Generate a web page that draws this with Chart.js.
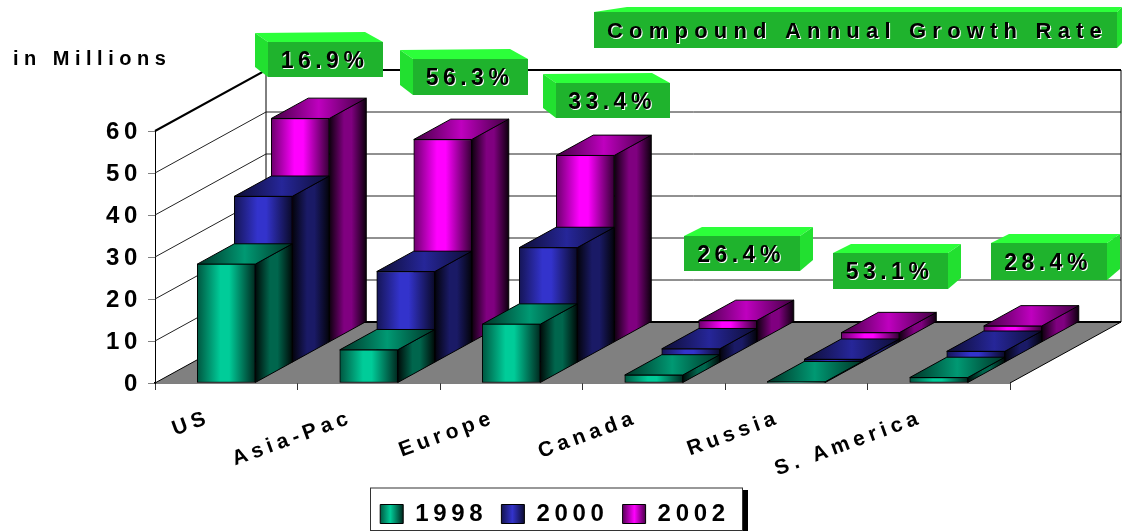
<!DOCTYPE html>
<html>
<head>
<meta charset="utf-8">
<style>
  html, body { margin: 0; padding: 0; background: #fff; }
  canvas { display: block; }
</style>
<script src="https://cdn.jsdelivr.net/npm/chart.js@4"></script>
</head>
<body>
<canvas id="grafica" width="1122" height="531"></canvas>
<script>
// data
const categories = ["US", "Asia-Pac", "Europe", "Canada", "Russia", "S. America"];
const years = ["1998", "2000", "2002"];
const values1998 = [28.3, 7.9, 14, 1.9, 0.3, 1.3];
const values2000 = [39.6, 21.7, 27.4, 3.3, 0.8, 2.7];
const values2002 = [53.3, 48.3, 44.5, 5.2, 2.3, 3.9];
const growthRates = ["16.9%", "56.3%", "33.4%", "26.4%", "53.1%", "28.4%"];
const yTicks = [0, 10, 20, 30, 40, 50, 60];

// layout of the 3d look
const FONT = '"Liberation Sans", Arial, sans-serif';
const STEP_X = 37, STEP_Y = 20.33, BAR_W = 58;
const seriesColors = [[0, 204, 153], [51, 51, 204], [255, 0, 255]];
// front box x,y,w,h of each growth callout, side = which way the 3d edge goes
const calloutBoxes = [
  { x: 268, y: 42, w: 115, h: 35, side: -1 },
  { x: 413, y: 59, w: 115, h: 36, side: -1 },
  { x: 556, y: 83, w: 114, h: 35, side: -1 },
  { x: 684, y: 236, w: 116, h: 35, side: 1 },
  { x: 833, y: 253, w: 115, h: 36, side: 1 },
  { x: 991, y: 243, w: 116, h: 37, side: 1 }
];

function shade(c, f) {
  return `rgb(${Math.round(c[0] * f)},${Math.round(c[1] * f)},${Math.round(c[2] * f)})`;
}

function gradFront(ctx, x0, x1, c) {
  const g = ctx.createLinearGradient(x0, 0, x1, 0);
  g.addColorStop(0, shade(c, 0.42));
  g.addColorStop(0.4, shade(c, 1));
  g.addColorStop(0.55, shade(c, 1));
  g.addColorStop(1, shade(c, 0.2));
  return g;
}

function poly(ctx, pts, fill, stroke) {
  ctx.beginPath();
  pts.forEach((p, i) => i ? ctx.lineTo(p[0], p[1]) : ctx.moveTo(p[0], p[1]));
  ctx.closePath();
  if (fill) { ctx.fillStyle = fill; ctx.fill(); }
  if (stroke) { ctx.strokeStyle = stroke; ctx.stroke(); }
}

function embossText(ctx, txt, x, y, size, spacing, align) {
  ctx.save();
  ctx.font = `bold ${size}px ${FONT}`;
  ctx.letterSpacing = spacing + "px";
  ctx.textAlign = align;
  ctx.textBaseline = "middle";
  ctx.fillStyle = "#000";
  ctx.shadowColor = "#fff";
  ctx.shadowOffsetX = 1;
  ctx.shadowOffsetY = 1;
  ctx.shadowBlur = 0;
  ctx.fillText(txt, x, y);
  ctx.restore();
}

const paint3d = {
  id: "paint3d",
  beforeUpdate(chart) {
    // wide spaced text everywhere, has to be set before ticks get measured
    chart.ctx.letterSpacing = "4.7px";
  },
  afterLayout(chart) {
    // legend box sits under the plot, not centred on the canvas
    const l = chart.legend;
    l.left = 320;
    l.right = 790;
    l.top += 5;
    l.bottom += 5;
    l.adjustHitBoxes();
  },
  beforeDraw(chart) {
    const ctx = chart.ctx;
    ctx.letterSpacing = "4.7px";
    ctx.save();
    ctx.fillStyle = "#000";
    ctx.fillRect(742, 490, 6, 41);
    ctx.fillStyle = "#fff";
    ctx.fillRect(370, 488, 372, 43);
    ctx.strokeStyle = "#333";
    ctx.lineWidth = 1;
    ctx.strokeRect(370.5, 488, 372, 42.5);
    ctx.restore();
  },
  beforeDatasetsDraw(chart) {
    const ctx = chart.ctx, x = chart.scales.x, y = chart.scales.y;
    const dx = STEP_X * 3, dy = STEP_Y * 3;
    const y0 = y.getPixelForValue(0), yTop = y.getPixelForValue(60);
    ctx.save();
    // floor
    poly(ctx, [[x.left, y0], [x.left + dx, y0 - dy], [x.right + dx, y0 - dy], [x.right, y0]], "#808080");
    // walls
    ctx.strokeStyle = "#222";
    ctx.lineWidth = 1;
    yTicks.forEach(v => {
      const p = y.getPixelForValue(v);
      if (v === 0 || v === 60) return;
      ctx.beginPath();
      ctx.moveTo(x.left, p);
      ctx.lineTo(x.left + dx, p - dy);
      ctx.lineTo(x.right + dx, p - dy);
      ctx.stroke();
    });
    ctx.strokeStyle = "#000";
    ctx.beginPath();
    ctx.moveTo(x.left + dx, yTop - dy);
    ctx.lineTo(x.left + dx, y0 - dy);
    ctx.moveTo(x.right + dx, yTop - dy);
    ctx.lineTo(x.right + dx, y0 - dy);
    ctx.lineTo(x.right, y0);
    ctx.moveTo(x.left, y0);
    ctx.lineTo(x.left + dx, y0 - dy);
    ctx.stroke();
    ctx.lineWidth = 2;
    ctx.beginPath();
    ctx.moveTo(x.left, yTop);
    ctx.lineTo(x.left + dx, yTop - dy);
    ctx.lineTo(x.right + dx, yTop - dy);
    ctx.moveTo(x.left + dx, y0 - dy);
    ctx.lineTo(x.right + dx, y0 - dy);
    ctx.stroke();
    ctx.restore();
  },
  beforeDatasetDraw(chart, args) {
    const ctx = chart.ctx, i = args.index, c = seriesColors[i];
    ctx.save();
    ctx.translate(STEP_X * i, -STEP_Y * i);
    ctx.lineWidth = 1;
    args.meta.data.forEach(bar => {
      const l = bar.x - BAR_W / 2, r = bar.x + BAR_W / 2, t = bar.y, b = bar.base;
      const gs = ctx.createLinearGradient(r, 0, r + STEP_X, 0);
      gs.addColorStop(0, shade(c, 0.05));
      gs.addColorStop(0.4, shade(c, 0.5));
      gs.addColorStop(0.6, shade(c, 0.5));
      gs.addColorStop(1, shade(c, 0.05));
      poly(ctx, [[r, t], [r + STEP_X, t - STEP_Y], [r + STEP_X, b - STEP_Y], [r, b]], gs, "#000");
      const gt = ctx.createLinearGradient(l, 0, r + STEP_X, 0);
      gt.addColorStop(0, shade(c, 0.25));
      gt.addColorStop(0.5, shade(c, 0.75));
      gt.addColorStop(1, shade(c, 0.25));
      poly(ctx, [[l, t], [l + STEP_X, t - STEP_Y], [r + STEP_X, t - STEP_Y], [r, t]], gt, "#000");
    });
  },
  afterDatasetDraw(chart) {
    chart.ctx.restore();
  },
  afterDraw(chart) {
    const ctx = chart.ctx;
    ctx.save();
    ctx.lineWidth = 1;
    // growth callouts
    const gFront = "#1FB32D", gTop = "#2CFF3A", gSide = "#22E030";
    growthRates.forEach((txt, i) => {
      const b = calloutBoxes[i], r = b.x + b.w, bt = b.y + b.h;
      if (b.side < 0) {
        poly(ctx, [[b.x, b.y], [b.x - 13, b.y - 9], [r - 18, b.y - 10], [r, b.y]], gTop);
        poly(ctx, [[b.x, b.y], [b.x - 13, b.y - 9], [b.x - 13, bt - 10], [b.x, bt]], gSide);
      } else {
        poly(ctx, [[b.x, b.y], [b.x + 18, b.y - 9], [r + 13, b.y - 9], [r, b.y]], gTop);
        poly(ctx, [[r, b.y], [r + 13, b.y - 9], [r + 13, bt - 11], [r, bt]], gSide);
      }
      ctx.fillStyle = gFront;
      ctx.fillRect(b.x, b.y, b.w, b.h);
      embossText(ctx, txt, b.x + b.w / 2 - 1, b.y + b.h / 2 + 2, 23, 4.5, "center");
    });
    // header box
    poly(ctx, [[594, 12], [627, 7], [1122, 7], [1117, 12]], gTop);
    poly(ctx, [[1117, 12], [1122, 7], [1122, 43], [1117, 48]], gSide);
    ctx.fillStyle = gFront;
    ctx.fillRect(594, 12, 523, 36);
    embossText(ctx, "Compound Annual Growth Rate", 607, 32, 22, 6.2, "left");
    // units label
    ctx.font = `bold 20px ${FONT}`;
    ctx.letterSpacing = "5.5px";
    ctx.textAlign = "left";
    ctx.textBaseline = "middle";
    ctx.fillStyle = "#000";
    ctx.fillText("in Millions", 13, 59);
    ctx.restore();
  }
};

function barFill(i) {
  return ctx => {
    const solid = shade(seriesColors[i], 1);
    if (ctx.type !== "data" || ctx.dataIndex === undefined || !ctx.chart.scales.x) return solid;
    const cx = ctx.chart.scales.x.getPixelForValue(ctx.dataIndex);
    // scales have no size yet on the first pass
    if (!Number.isFinite(cx)) return solid;
    return gradFront(ctx.chart.ctx, cx - BAR_W / 2, cx + BAR_W / 2, seriesColors[i]);
  };
}

Chart.defaults.font.family = FONT;
Chart.defaults.color = "#000";

const datasets = [values1998, values2000, values2002].map((vals, i) => ({
  label: years[i],
  data: vals,
  backgroundColor: barFill(i),
  borderColor: "#000",
  borderWidth: 1,
  borderSkipped: false,
  barThickness: BAR_W,
  grouped: false,
  clip: false
}));

new Chart(document.getElementById("grafica"), {
  type: "bar",
  data: { labels: categories, datasets },
  plugins: [paint3d],
  options: {
    responsive: false,
    animation: false,
    devicePixelRatio: 1,
    layout: { padding: { top: 131, right: 112, left: 0, bottom: 0 } },
    plugins: {
      tooltip: { enabled: false },
      legend: {
        position: "bottom",
        onClick: null,
        labels: {
          boxWidth: 23,
          boxHeight: 19,
          padding: 14,
          color: "#000",
          font: { size: 24, weight: "bold" },
          // swatch gets the same shine as the bars, left to right like the bar faces
          generateLabels(chart) {
            return years.map((yr, i) => {
              const g = chart.ctx.createLinearGradient(380 + 122 * i, 0, 403 + 122 * i, 0);
              g.addColorStop(0, shade(seriesColors[i], 0.42));
              g.addColorStop(0.45, shade(seriesColors[i], 1));
              g.addColorStop(1, shade(seriesColors[i], 0.2));
              return { text: yr, fillStyle: g, strokeStyle: "#000", lineWidth: 1, datasetIndex: i, fontColor: "#000" };
            });
          }
        }
      }
    },
    scales: {
      x: {
        afterFit(s) { s.height = 531 - 383 - ((s.chart.legend && s.chart.legend.height) || 43); },
        border: { color: "#000", width: 1.5 },
        grid: { drawOnChartArea: false, color: "#333", tickLength: 7 },
        ticks: {
          autoSkip: false,
          minRotation: 20,
          maxRotation: 20,
          padding: 15,
          labelOffset: -17,
          color: "#000",
          font: { size: 21, weight: "bold" }
        }
      },
      y: {
        min: 0,
        max: 60,
        afterFit(s) { s.width = 155; },
        afterBuildTicks(s) { s.ticks = yTicks.map(v => ({ value: v })); },
        border: { color: "#000", width: 1 },
        grid: { drawOnChartArea: false, color: "#808080", tickLength: 7 },
        ticks: {
          padding: 6,
          labelOffset: 1.5,
          color: "#000",
          font: { size: 24, weight: "bold" }
        }
      }
    }
  }
});
</script>
</body>
</html>
